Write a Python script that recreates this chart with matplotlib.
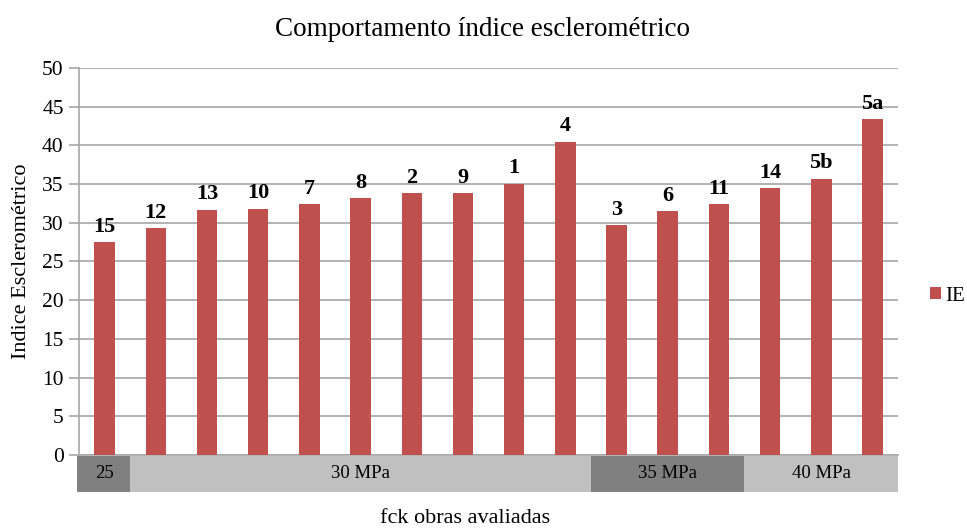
import matplotlib
matplotlib.use("Agg")
import matplotlib.pyplot as plt
from matplotlib.patches import Rectangle
from matplotlib.transforms import blended_transform_factory

labels = ["15", "12", "13", "10", "7", "8", "2", "9", "1", "4", "3", "6", "11", "14", "5b", "5a"]
values = [27.5, 29.3, 31.7, 31.8, 32.4, 33.2, 33.85, 33.85, 35.05, 40.5, 29.7, 31.5, 32.4, 34.5, 35.7, 43.4]
groups = ["25", "30 MPa", "35 MPa", "40 MPa"]
group_sizes = [1, 9, 3, 3]
group_colors = ["#808080", "#c0c0c0", "#808080", "#c0c0c0"]
yticks = [0, 5, 10, 15, 20, 25, 30, 35, 40, 45, 50]

plt.rcParams['font.family'] = ['Liberation Serif', 'DejaVu Serif']

fig = plt.figure(figsize=(9.67, 5.29), dpi=100)
ax = fig.add_axes([0.0817, 0.1399, 0.8470, 0.7316])

x = list(range(len(values)))
bars = ax.bar(x, values, width=0.4, color="#c0504d", label="IE", zorder=3)
for xi, v, lab in zip(x, values, labels):
    ax.text(xi, v + 0.7, lab, ha="center", va="bottom", fontsize=16, fontweight="bold", color="black")

ax.set_xlim(-0.5, len(values) - 0.5)
ax.set_ylim(0, 50)
ax.set_yticks(yticks)
ax.set_yticklabels([str(t) for t in yticks], fontsize=15.5)
ax.set_xticks([])
ax.grid(axis="y", color="#a6a6a6", linewidth=1.2, zorder=0)
for s in ["top", "right"]:
    ax.spines[s].set_visible(False)
ax.spines["left"].set_color("#a6a6a6")
ax.spines["bottom"].set_color("#a6a6a6")
ax.spines["left"].set_linewidth(1.2)
ax.spines["bottom"].set_linewidth(1.2)
ax.tick_params(axis="y", length=7, color="#a6a6a6", width=1.2, pad=4)

trans = blended_transform_factory(ax.transData, ax.transAxes)
start = -0.5
for g, n, c in zip(groups, group_sizes, group_colors):
    left = start - 0.04 if start == -0.5 else start
    r = Rectangle((left, -0.095), start + n - left, 0.093, transform=trans,
                  facecolor=c, edgecolor="none", clip_on=False)
    ax.add_patch(r)
    ax.text(start + n / 2, -0.048, g, transform=trans, ha="center", va="center", fontsize=13.5)
    start += n

ax.set_ylabel("Indice Esclerométrico", fontsize=16, labelpad=8)
fig.text(0.481, 0.02, "fck obras avaliadas", ha="center", va="center", fontsize=16)
fig.text(0.4985, 0.945, "Comportamento índice esclerométrico", ha="center", va="center", fontsize=19.5)

ax.legend(loc="center left", bbox_to_anchor=(1.0395, 0.41), frameon=False, fontsize=15,
          handlelength=0.5, handleheight=0.5, handletextpad=0.2,
          borderpad=0, borderaxespad=0)

fig.savefig("out.png", dpi=100)
